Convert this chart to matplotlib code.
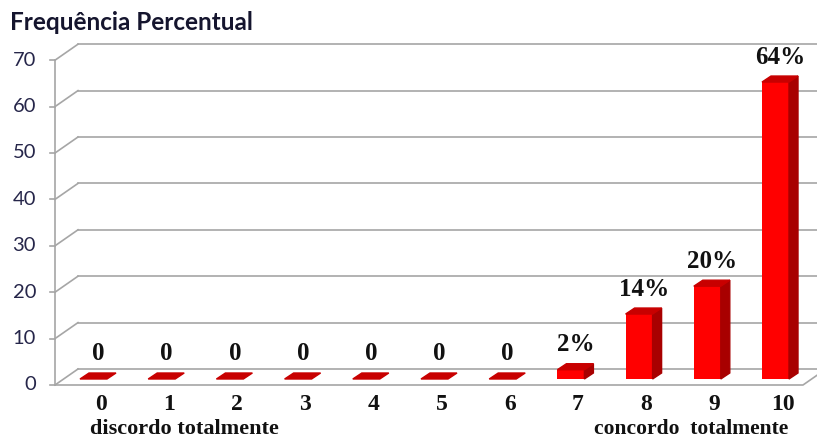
import matplotlib
matplotlib.use("Agg")
import matplotlib.pyplot as plt
from matplotlib.patches import Polygon

# Frequência percentual por nota (0 = discordo totalmente, 10 = concordo totalmente)
categorias = ["0", "1", "2", "3", "4", "5", "6", "7", "8", "9", "10"]
percentuais = [0, 0, 0, 0, 0, 0, 0, 2, 14, 20, 64]
yticks = [0, 10, 20, 30, 40, 50, 60, 70]

W, H, DPI = 817, 441, 100
fig = plt.figure(figsize=(W / DPI, H / DPI), dpi=DPI)
ax = fig.add_axes([0, 0, 1, 1])
ax.axis("off")

# scale: one category = 68.2 px, one percent = 4.64 px
ax.set_xlim(-93.5 / 68.2, (W - 93.5) / 68.2)
ax.set_ylim(-62 / 4.64, (H - 62) / 4.64)


def px(dx, dy):
    """pixel offset -> data offset"""
    return dx / 68.2, dy / 4.64


grid_c = "#a6a6a6"
front_dx, front_dy = px(-8.6, -6)    # front edge of the floor
back_dx, back_dy = px(14.4, 10)      # back wall
x_left = -93.5 / 68.2 + 55 / 68.2    # y axis position
x_right = x_left + 748 / 68.2
wall_dx = back_dx - front_dx

# back wall gridlines + side wall diagonals
for v in yticks:
    ax.plot([x_left + wall_dx, x_right + 30 / 68.2],
            [v + back_dy, v + back_dy], color=grid_c, lw=1.2, zorder=1)
    ax.plot([x_left, x_left + wall_dx],
            [v + front_dy, v + back_dy], color=grid_c, lw=1.2, zorder=1)
    ax.plot([x_left - 5 / 68.2, x_left], [v + front_dy, v + front_dy],
            color=grid_c, lw=1.2, zorder=1)
    ax.text(x_left - 19 / 68.2, v + front_dy, str(v), ha="right", va="center",
            fontsize=14.5, family="Lato", color="#26264a")

# y axis and floor front edge
ax.plot([x_left, x_left], [front_dy, 70 + front_dy], color=grid_c, lw=1.2, zorder=1)
ax.plot([x_left, x_right, x_right + 23 / 68.2],
        [front_dy, front_dy, back_dy], color=grid_c, lw=1.2, zorder=1)

# 3d columns
bw = 27 / 68.2
ddx, ddy = px(9, 6)
for i, v in enumerate(percentuais):
    x0, x1 = i - bw / 2, i + bw / 2
    if v > 0:
        ax.bar(i, v, width=bw, color="#ff0000", zorder=3)
        ax.add_patch(Polygon([(x1, 0), (x1 + ddx, ddy), (x1 + ddx, v + ddy), (x1, v)],
                             closed=True, color="#a80000", zorder=3))
    ax.add_patch(Polygon([(x0, v), (x1, v), (x1 + ddx, v + ddy), (x0 + ddx, v + ddy)],
                         closed=True, color="#c80000", zorder=3))
    rotulo = f"{v}%" if v else "0"
    ax.text(i + 5 / 68.2, v + 25 / 4.64, rotulo, ha="center", va="center",
            fontsize=18, family="Liberation Serif", weight="bold", color="#111111")

# category labels
for i, c in enumerate(categorias):
    ax.text(i + 7 / 68.2, front_dy - 19 / 4.64, c, ha="center", va="center",
            fontsize=17, family="Liberation Serif", weight="bold", color="#111111")

ax.text(0 - 4 / 68.2, front_dy - 44 / 4.64, "discordo totalmente", ha="left",
        va="center", fontsize=16, family="Liberation Serif", weight="bold",
        color="#111111")
ax.text(10 + 13 / 68.2, front_dy - 44 / 4.64, "concordo  totalmente", ha="right",
        va="center", fontsize=15.5, family="Liberation Serif", weight="bold",
        color="#111111")

fig.text(10 / W, 1 - 23 / H, "Frequência Percentual", ha="left", va="center",
         fontsize=17.5, family="Lato", weight="bold", color="#15152e")

fig.savefig("out.png", dpi=DPI)
